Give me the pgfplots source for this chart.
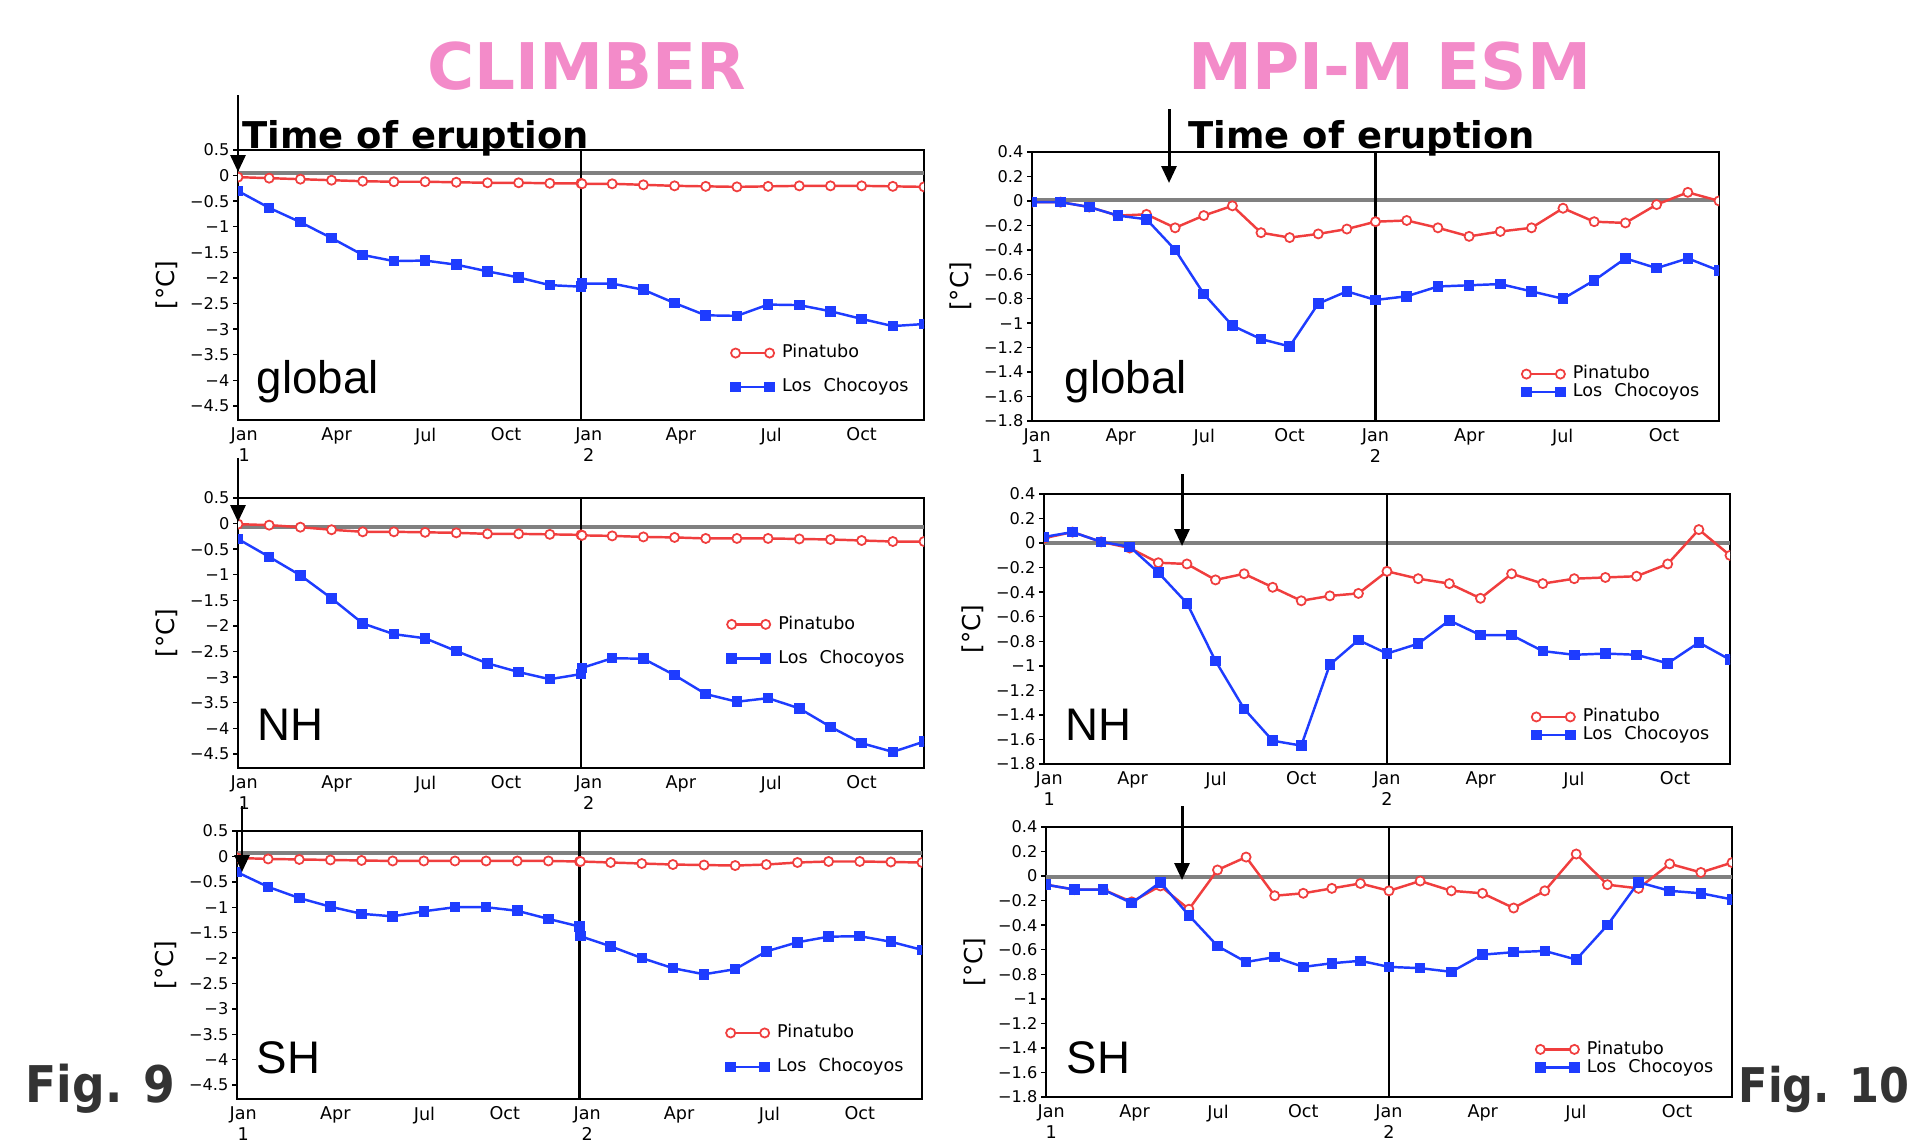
\documentclass[border=0pt]{standalone}
\usepackage{fontspec}
\setmainfont{DejaVu Sans}
\newfontfamily\labfont{Liberation Sans}
\newfontfamily\figfont[FakeStretch=0.9]{DejaVu Sans}
\usepackage{pgfplots}
\usepackage{pgfplotstable}
\pgfplotsset{compat=1.18}
\usetikzlibrary{arrows.meta}
\definecolor{pinatubo}{RGB}{240,62,62}
\definecolor{chocoyos}{RGB}{30,60,255}
\definecolor{titlepink}{RGB}{243,139,201}
\definecolor{figgray}{RGB}{51,51,51}
\tikzset{yearline/.style={black, line width=0.6pt}}

\pgfplotstableread{
x pina choc
0 -0.03 -0.30
1 -0.05 -0.63
2 -0.07 -0.91
3 -0.09 -1.22
4 -0.11 -1.55
5 -0.12 -1.67
6 -0.12 -1.66
7 -0.13 -1.74
8 -0.14 -1.87
9 -0.14 -1.99
10 -0.15 -2.14
11 -0.15 -2.17
11.03 -0.16 -2.11
12 -0.16 -2.11
13 -0.18 -2.23
14 -0.20 -2.49
15 -0.21 -2.73
16 -0.22 -2.74
17 -0.21 -2.52
18 -0.20 -2.53
19 -0.20 -2.65
20 -0.20 -2.80
21 -0.21 -2.94
22 -0.22 -2.90
}\climglob

\pgfplotstableread{
x pina choc
0 -0.01 -0.30
1 -0.03 -0.65
2 -0.07 -1.01
3 -0.12 -1.46
4 -0.16 -1.95
5 -0.16 -2.16
6 -0.17 -2.24
7 -0.18 -2.49
8 -0.20 -2.73
9 -0.20 -2.90
10 -0.21 -3.04
11 -0.22 -2.94
11.03 -0.23 -2.82
12 -0.24 -2.63
13 -0.26 -2.64
14 -0.27 -2.96
15 -0.29 -3.33
16 -0.29 -3.48
17 -0.29 -3.41
18 -0.30 -3.61
19 -0.31 -3.97
20 -0.33 -4.29
21 -0.35 -4.46
22 -0.35 -4.26
}\climnh

\pgfplotstableread{
x pina choc
0 -0.03 -0.31
1 -0.05 -0.60
2 -0.06 -0.82
3 -0.07 -0.99
4 -0.08 -1.13
5 -0.09 -1.18
6 -0.09 -1.08
7 -0.09 -1.00
8 -0.09 -1.00
9 -0.09 -1.07
10 -0.09 -1.23
11 -0.10 -1.38
11.03 -0.10 -1.57
12 -0.12 -1.77
13 -0.14 -2.00
14 -0.16 -2.20
15 -0.17 -2.32
16 -0.18 -2.22
17 -0.16 -1.87
18 -0.12 -1.69
19 -0.10 -1.58
20 -0.10 -1.57
21 -0.11 -1.68
22 -0.12 -1.84
}\climsh

\pgfplotstableread{
x pina choc
0 -0.01 -0.01
1 -0.01 -0.01
2 -0.05 -0.05
3 -0.12 -0.12
4 -0.11 -0.15
5 -0.22 -0.40
6 -0.12 -0.76
7 -0.04 -1.02
8 -0.26 -1.13
9 -0.30 -1.19
10 -0.27 -0.84
11 -0.23 -0.74
12 -0.17 -0.81
13.09 -0.16 -0.78
14.18 -0.22 -0.70
15.27 -0.29 -0.69
16.36 -0.25 -0.68
17.45 -0.22 -0.74
18.55 -0.06 -0.80
19.64 -0.17 -0.65
20.73 -0.18 -0.47
21.82 -0.03 -0.55
22.91 0.07 -0.47
24 0.00 -0.57
}\mpiglob

\pgfplotstableread{
x pina choc
0 0.04 0.05
1 0.09 0.09
2 0.01 0.01
3 -0.04 -0.03
4 -0.16 -0.24
5 -0.17 -0.49
6 -0.30 -0.96
7 -0.25 -1.35
8 -0.36 -1.61
9 -0.47 -1.65
10 -0.43 -0.99
11 -0.41 -0.79
12 -0.23 -0.90
13.09 -0.29 -0.82
14.18 -0.33 -0.63
15.27 -0.45 -0.75
16.36 -0.25 -0.75
17.45 -0.33 -0.88
18.55 -0.29 -0.91
19.64 -0.28 -0.90
20.73 -0.27 -0.91
21.82 -0.17 -0.98
22.91 0.11 -0.81
24 -0.10 -0.95
}\mpinh

\pgfplotstableread{
x pina choc
0 -0.07 -0.07
1 -0.11 -0.11
2 -0.11 -0.11
3 -0.21 -0.22
4 -0.08 -0.05
5 -0.27 -0.32
6 0.05 -0.57
7 0.155 -0.70
8 -0.16 -0.66
9 -0.14 -0.74
10 -0.10 -0.71
11 -0.06 -0.69
12 -0.12 -0.74
13.09 -0.04 -0.75
14.18 -0.12 -0.78
15.27 -0.14 -0.64
16.36 -0.26 -0.62
17.45 -0.12 -0.61
18.55 0.18 -0.68
19.64 -0.07 -0.40
20.73 -0.10 -0.05
21.82 0.10 -0.12
22.91 0.03 -0.14
24 0.11 -0.19
}\mpish

\pgfplotsset{
  panel/.style={
    scale only axis, anchor=south west,
    axis line style={line width=0.6pt},
    tick align=outside, major tick length=0.5mm,
    ytick pos=left, xtick pos=bottom,
    xtick style={draw=none}, ytick style={line width=0.4pt, black},
    xticklabel style={font=\fontsize{5}{6}\selectfont, align=center, anchor=north, inner sep=0pt, yshift=-0.2mm},
    yticklabel style={font=\fontsize{4.6}{5.5}\selectfont, anchor=east, inner sep=0pt, xshift=-0.3mm},
    ylabel={[°C]},
    ylabel style={at={(axis description cs:-0.1035,0.5)}, anchor=center, font=\fontsize{7}{8}\selectfont, inner sep=0pt},
    clip marker paths=true,
    legend cell align=left,
    legend style={draw=none, fill=none, inner sep=0pt, outer sep=0pt, anchor=west,
      font=\fontsize{5}{6}\selectfont, column sep=0.8mm,
      nodes={inner sep=0pt, text height=1.3mm, text depth=0.35mm}},
    legend image code/.code={\draw[##1] plot coordinates {(0mm,0mm) (3.4mm,0mm)};},
  },
  climber/.style={panel, width=68.6mm, height=27.0mm,
    xmin=0, xmax=22, ymin=-4.775, ymax=0.5,
    ytick={-4.5,-4,-3.5,-3,-2.5,-2,-1.5,-1,-0.5,0,0.5},
    yticklabels={−4.5,−4,−3.5,−3,−2.5,−2,−1.5,−1,−0.5,0,0.5},
    xtick={0.2,3.16,6.02,8.6,11.25,14.2,17.1,20.0},
    xticklabels={Jan\\1,Apr,Jul,Oct,Jan\\2,Apr,Jul,Oct},
    legend style={row sep=1.75mm}},
  mpi/.style={panel, width=68.6mm, height=27.0mm,
    xmin=0, xmax=24, ymin=-1.8, ymax=0.4,
    ytick={-1.8,-1.6,-1.4,-1.2,-1,-0.8,-0.6,-0.4,-0.2,0,0.2,0.4},
    yticklabels={−1.8,−1.6,−1.4,−1.2,−1,−0.8,−0.6,−0.4,−0.2,0,0.2,0.4},
    xtick={0.18,3.1,6.02,9.0,12.0,15.28,18.54,22.08},
    xticklabels={Jan\\1,Apr,Jul,Oct,Jan\\2,Apr,Jul,Oct},
    legend style={row sep=0.15mm}},
  pina/.style={color=pinatubo, line width=0.7pt, mark=*, mark size=1.3pt, mark options={fill=white, line width=0.5pt}},
  choc/.style={color=chocoyos, line width=0.7pt, mark=square*, mark size=1.15pt},
  zline/.style={color=gray, line width=1.1pt, forget plot},
}

\newcommand{\lc}{Los\hspace{1.2mm}Chocoyos}

\begin{document}
\begin{tikzpicture}
\useasboundingbox (0,0) rectangle (191.4mm,-114.3mm);

% ---------- CLIMBER global
\begin{axis}[climber, at={(23.8mm,-42.0mm)},
  legend style={at={(axis description cs:0.7187,0.185)}}]
\addplot[zline] coordinates {(0,0.046) (22,0.046)};
\draw[yearline] (axis cs:11,-4.775) -- (axis cs:11,0.5);
\addplot[pina] table[x=x, y=pina] {\climglob};
\addplot[choc] table[x=x, y=choc] {\climglob};
\legend{Pinatubo, \lc}
\end{axis}

% ---------- CLIMBER NH
\begin{axis}[climber, at={(23.8mm,-76.8mm)},
  legend style={at={(axis description cs:0.713,0.469)}}]
\addplot[zline] coordinates {(0,-0.065) (22,-0.065)};
\draw[yearline] (axis cs:11,-4.775) -- (axis cs:11,0.5);
\addplot[pina] table[x=x, y=pina] {\climnh};
\addplot[choc] table[x=x, y=choc] {\climnh};
\legend{Pinatubo, \lc}
\end{axis}

% ---------- CLIMBER SH
\begin{axis}[climber, at={(23.7mm,-109.9mm)}, width=68.5mm, height=26.8mm,
  legend style={at={(axis description cs:0.714,0.183)}}]
\addplot[zline] coordinates {(0,0.065) (22,0.065)};
\draw[yearline] (axis cs:11,-4.775) -- (axis cs:11,0.5);
\addplot[pina] table[x=x, y=pina] {\climsh};
\addplot[choc] table[x=x, y=choc] {\climsh};
\legend{Pinatubo, \lc}
\end{axis}

% ---------- MPI global
\begin{axis}[mpi, at={(103.2mm,-42.1mm)}, width=68.7mm, height=26.9mm,
  legend style={at={(axis description cs:0.713,0.141)}}]
\addplot[zline] coordinates {(0,0.01) (24,0.01)};
\draw[yearline] (axis cs:12,-1.8) -- (axis cs:12,0.4);
\addplot[pina] table[x=x, y=pina] {\mpiglob};
\addplot[choc] table[x=x, y=choc] {\mpiglob};
\legend{Pinatubo, \lc}
\end{axis}

% ---------- MPI NH
\begin{axis}[mpi, at={(104.4mm,-76.4mm)},
  legend style={at={(axis description cs:0.711,0.141)}}]
\addplot[zline] coordinates {(0,0.0) (24,0.0)};
\draw[yearline] (axis cs:12,-1.8) -- (axis cs:12,0.4);
\addplot[pina] table[x=x, y=pina] {\mpinh};
\addplot[choc] table[x=x, y=choc] {\mpinh};
\legend{Pinatubo, \lc}
\end{axis}

% ---------- MPI SH
\begin{axis}[mpi, at={(104.6mm,-109.7mm)},
  legend style={at={(axis description cs:0.714,0.143)}}]
\addplot[zline] coordinates {(0,-0.006) (24,-0.006)};
\draw[yearline] (axis cs:12,-1.8) -- (axis cs:12,0.4);
\addplot[pina] table[x=x, y=pina] {\mpish};
\addplot[choc] table[x=x, y=choc] {\mpish};
\legend{Pinatubo, \lc}
\end{axis}

% ---------- titles and annotations
\node[anchor=base, inner sep=0pt, text=titlepink, font=\fontsize{18.3}{20}\selectfont\bfseries] at (58.7mm,-8.9mm) {CLIMBER};
\node[anchor=base, inner sep=0pt, text=titlepink, font=\fontsize{18.3}{20}\selectfont\bfseries] at (139.0mm,-8.9mm) {MPI-M ESM};
\node[anchor=base west, inner sep=0pt, font=\fontsize{10.5}{12}\selectfont\bfseries] at (24.2mm,-14.8mm) {Time of eruption};
\node[anchor=base west, inner sep=0pt, font=\fontsize{10.5}{12}\selectfont\bfseries] at (118.8mm,-14.8mm) {Time of eruption};
\node[anchor=base west, inner sep=0pt, text=figgray, font=\figfont\bfseries\fontsize{14.4}{16}\selectfont] at (2.5mm,-110.2mm) {Fig. 9};
\node[anchor=base west, inner sep=0pt, text=figgray, font=\figfont\bfseries\fontsize{13.6}{15}\selectfont] at (173.8mm,-110.2mm) {Fig. 10};

\node[anchor=base west, inner sep=0pt, font=\labfont\fontsize{13}{14}\selectfont] at (25.6mm,-39.3mm) {global};
\node[anchor=base west, inner sep=0pt, font=\labfont\fontsize{13}{14}\selectfont] at (25.65mm,-74.0mm) {NH};
\node[anchor=base west, inner sep=0pt, font=\labfont\fontsize{13}{14}\selectfont] at (25.6mm,-107.3mm) {SH};
\node[anchor=base west, inner sep=0pt, font=\labfont\fontsize{13}{14}\selectfont] at (106.4mm,-39.3mm) {global};
\node[anchor=base west, inner sep=0pt, font=\labfont\fontsize{13}{14}\selectfont] at (106.45mm,-74.0mm) {NH};
\node[anchor=base west, inner sep=0pt, font=\labfont\fontsize{13}{14}\selectfont] at (106.6mm,-107.3mm) {SH};

% arrows marking the time of eruption
\begin{scope}[line width=0.85pt, -{Triangle[length=1.7mm,width=1.5mm]}]
\draw (23.8mm,-9.5mm) -- (23.8mm,-17.2mm);
\draw (23.8mm,-45.8mm) -- (23.8mm,-52.2mm);
\draw (24.2mm,-80.6mm) -- (24.2mm,-87.2mm);
\draw (116.9mm,-10.9mm) -- (116.9mm,-18.3mm);
\draw (118.2mm,-47.4mm) -- (118.2mm,-54.6mm);
\draw (118.2mm,-80.6mm) -- (118.2mm,-88.0mm);
\end{scope}
\end{tikzpicture}
\end{document}
